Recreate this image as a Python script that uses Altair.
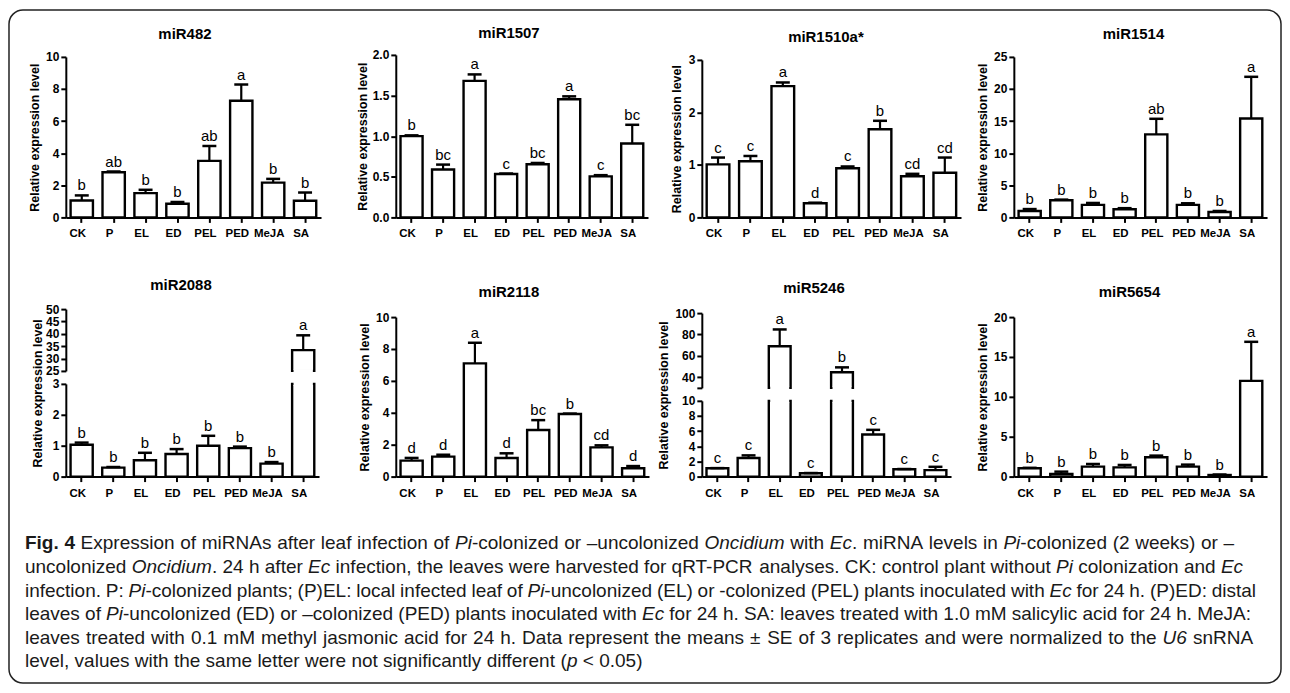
import altair as alt
import pandas as pd

# ---------------- data ----------------
categories = ["CK", "P", "EL", "ED", "PEL", "PED", "MeJA", "SA"]

mir482_mean = [1.05, 2.81, 1.51, 0.85, 3.52, 7.27, 2.17, 1.04]
mir482_err = [0.32, 0.05, 0.21, 0.11, 0.93, 1.01, 0.23, 0.51]
mir482_letters = ["b", "ab", "b", "b", "ab", "a", "b", "b"]

mir1507_mean = [1.00, 0.59, 1.68, 0.535, 0.654, 1.455, 0.505, 0.91]
mir1507_err = [0.01, 0.06, 0.08, 0.005, 0.016, 0.035, 0.015, 0.23]
mir1507_letters = ["b", "bc", "a", "c", "bc", "a", "c", "bc"]

mir1510_mean = [1.01, 1.07, 2.50, 0.27, 0.935, 1.68, 0.785, 0.85]
mir1510_err = [0.13, 0.10, 0.07, 0.01, 0.035, 0.16, 0.045, 0.29]
mir1510_letters = ["c", "c", "a", "d", "c", "b", "cd", "cd"]

mir1514_mean = [1.0, 2.67, 1.95, 1.28, 12.94, 1.95, 0.85, 15.4]
mir1514_err = [0.3, 0.1, 0.3, 0.16, 2.42, 0.25, 0.15, 6.5]
mir1514_letters = ["b", "b", "b", "b", "ab", "b", "b", "a"]

mir2088_mean = [1.03, 0.29, 0.53, 0.73, 1.0, 0.92, 0.42, 33.4]
mir2088_err = [0.07, 0.02, 0.24, 0.16, 0.32, 0.05, 0.05, 6.0]
mir2088_letters = ["b", "b", "b", "b", "b", "b", "b", "a"]

mir2118_mean = [1.0, 1.25, 7.1, 1.17, 2.92, 3.92, 1.83, 0.52]
mir2118_err = [0.17, 0.12, 1.29, 0.29, 0.62, 0.03, 0.13, 0.14]
mir2118_letters = ["d", "d", "a", "d", "bc", "b", "cd", "d"]

mir5246_mean = [1.1, 2.45, 69.0, 0.45, 44.6, 5.55, 0.97, 0.85]
mir5246_err = [0.02, 0.35, 15.7, 0.02, 4.6, 0.62, 0.03, 0.44]
mir5246_letters = ["c", "c", "a", "c", "b", "c", "c", "c"]

mir5654_mean = [1.04, 0.33, 1.25, 1.16, 2.42, 1.25, 0.2, 12.0]
mir5654_err = [0.06, 0.29, 0.33, 0.30, 0.21, 0.25, 0.06, 4.9]
mir5654_letters = ["b", "b", "b", "b", "b", "b", "b", "a"]

caption_lines = [
    [("Fig. 4", "b"), (" Expression of miRNAs after leaf infection of ", "n"), ("Pi", "i"),
     ("-colonized or \u2013uncolonized ", "n"), ("Oncidium", "i"), (" with ", "n"), ("Ec", "i"),
     (". miRNA levels in ", "n"), ("Pi", "i"), ("-colonized (2 weeks) or \u2013", "n")],
    [("uncolonized ", "n"), ("Oncidium", "i"), (". 24 h after ", "n"), ("Ec", "i"),
     (" infection, the leaves were harvested for qRT-PCR analyses. CK: control plant without ", "n"),
     ("Pi", "i"), (" colonization and ", "n"), ("Ec", "i")],
    [("infection. P: ", "n"), ("Pi", "i"), ("-colonized plants; (P)EL: local infected leaf of ", "n"),
     ("Pi", "i"), ("-uncolonized (EL) or -colonized (PEL) plants inoculated with ", "n"), ("Ec", "i"),
     (" for 24 h. (P)ED: distal", "n")],
    [("leaves of ", "n"), ("Pi", "i"), ("-uncolonized (ED) or \u2013colonized (PED) plants inoculated with ", "n"),
     ("Ec", "i"), (" for 24 h. SA: leaves treated with 1.0 mM salicylic acid for 24 h. MeJA:", "n")],
    [("leaves treated with 0.1 mM methyl jasmonic acid for 24 h. Data represent the means \u00b1 SE of 3 replicates and were normalized to the ", "n"),
     ("U6", "i"), (" snRNA", "n")],
    [("level, values with the same letter were not significantly different (", "n"), ("p", "i"),
     (" < 0.05)", "n")],
]

FONT = "Liberation Sans"

# ---------------- layout constants (pixels) ----------------
PAGE_VIEW_X = 66          # left edge of the first column
ROW1_TOP = 53
ROW1_H = 163
ROW2_H = 168
ROW_GAP = 92
COL_GAP = 40
CAPTION_TOP = ROW1_TOP + ROW1_H + ROW_GAP + ROW2_H + ROW_GAP
CAP_LEFT = 25
CAP_LINE_END = [1238, 1247, 1260, 1255, 1257, None]
CAP_Y0 = 543
CAP_DY = 23.7
P_IN, P_OUT = 0.3, 0.15
XLABEL_GAP = 17


def frame(means, errs, letters):
    return pd.DataFrame({
        "cat": categories,
        "mean": means,
        "err": errs,
        "top": [m + e for m, e in zip(means, errs)],
        "letter": letters,
    })


def xenc(xrng):
    xscale = alt.Scale(domain=categories, range=xrng, paddingInner=P_IN, paddingOuter=P_OUT)
    xaxis = alt.Axis(title=None, labels=False, tickSize=5, tickWidth=2, tickColor="black",
                     domainWidth=2, domainColor="black", grid=False)
    return alt.X("cat:N", scale=xscale, axis=xaxis)


def xlabels(df, X, height):
    # category names under the axis ticks
    return alt.Chart(df).mark_text(
        align="center", baseline="middle", font=FONT, fontWeight="bold",
        fontSize=11.5, color="black", dx=-4).encode(
        x=X, y=alt.value(height + XLABEL_GAP), text="cat:N")


def bandwidth(xrng):
    step = (xrng[1] - xrng[0]) / (len(categories) - P_IN + 2 * P_OUT)
    return step * (1 - P_IN)


def yaxis(ticks, fmt, title=True, title_pad=4, title_y=None, label_expr=None):
    ax = dict(values=ticks, format=fmt, grid=False, orient="left", labelFont=FONT,
              labelFontWeight="bold", labelFontSize=12, labelColor="black", labelPadding=2,
              tickSize=5, tickWidth=2, tickColor="black", domainWidth=2, domainColor="black")
    if title:
        ax.update(title="Relative expression level", titleFont=FONT, titleFontWeight="bold",
                  titleFontSize=12.5, titleColor="black", titlePadding=title_pad)
        if title_y is not None:
            ax["titleY"] = title_y
    else:
        ax["title"] = None
    if label_expr:
        ax["labelExpr"] = label_expr
    return alt.Axis(**ax)


def ttl(text, dx, offset):
    return alt.TitleParams(text, font=FONT, fontSize=15, fontWeight="bold", color="black",
                           anchor="middle", frame="group", dx=dx, offset=offset)


def letters_mark(chart):
    return chart.mark_text(font=FONT, fontSize=15, color="black", baseline="alphabetic", dy=-5)


def bar_mark(chart):
    return chart.mark_bar(fill="white", stroke="black", strokeWidth=2.4, opacity=1)


def panel(df, ydom, yrng, ticks, fmt, xrng, width, height, title_pad=4):
    X = xenc(xrng)
    yscale = alt.Scale(domain=ydom, range=yrng, nice=False, zero=False)
    yax = yaxis(ticks, fmt, True, title_pad)

    def Y(field):
        return alt.Y(field, type="quantitative", scale=yscale, axis=yax)

    base = alt.Chart(df)
    bars = bar_mark(base).encode(x=X, y=Y("mean"), y2=alt.datum(0))
    err = base.mark_rule(color="black", strokeWidth=2.2).encode(x=X, y=Y("mean"), y2="top:Q")
    cap = base.mark_tick(color="black", size=14, thickness=2.5, opacity=1).encode(x=X, y=Y("top"))
    lab = letters_mark(base).encode(x=X, y=Y("top"), text="letter:N")
    return alt.layer(bars, err, cap, lab, xlabels(df, X, height)).properties(
        width=width, height=height)


def segment(df, X, bw, dom, rng, keep, lo_cut, hi_cut, axis):
    """One part of a broken axis: bars drawn on their own clamped y scale."""
    yscale = alt.Scale(domain=dom, range=rng, nice=False, zero=False, clamp=True)

    def Y(field):
        return alt.Y(field, type="quantitative", scale=yscale, axis=axis)

    base = alt.Chart(df).transform_filter(keep)
    bars = bar_mark(base).encode(x=X, y=Y("mean"), y2=alt.datum(max(0, dom[0])))
    layers = [bars]
    for cut in (lo_cut, hi_cut):
        if cut is None:
            continue
        cover = alt.Chart(df).transform_filter(
            (alt.datum.mean > dom[1]) if cut == dom[1] else (alt.datum.mean > dom[0])
        ).mark_tick(color="white", size=bw - 2.8, thickness=3.8, opacity=1).encode(
            x=X, y=alt.YDatum(cut, type="quantitative", scale=yscale, axis=axis))
        layers.append(cover)
    vis = alt.Chart(df).transform_filter(keep).transform_filter(alt.datum.mean <= dom[1])
    layers.append(vis.mark_rule(color="black", strokeWidth=2.2).encode(x=X, y=Y("mean"), y2="top:Q"))
    layers.append(vis.mark_tick(color="black", size=14, thickness=2.5, opacity=1).encode(
        x=X, y=Y("top")))
    layers.append(letters_mark(vis).encode(x=X, y=Y("top"), text="letter:N"))
    return alt.layer(*layers)


def broken_panel(df, lo_dom, lo_rng, lo_ticks, hi_dom, hi_rng, hi_ticks, xrng, width, height,
                 title_pad, title_y, hi_label_expr=None):
    X = xenc(xrng)
    bw = bandwidth(xrng)
    lo_axis = yaxis(lo_ticks, "d", True, title_pad, title_y)
    hi_axis = yaxis(hi_ticks, "d", False, label_expr=hi_label_expr)
    lower = segment(df, X, bw, lo_dom, lo_rng, alt.datum.mean >= 0, None, lo_dom[1], lo_axis)
    upper = segment(df, X, bw, hi_dom, hi_rng, alt.datum.mean > hi_dom[0], hi_dom[0], None, hi_axis)
    return alt.layer(lower, upper, xlabels(df, X, height)).resolve_scale(y="independent").properties(
        width=width, height=height)


# ---------------- row 1 ----------------
p482 = panel(frame(mir482_mean, mir482_err, mir482_letters), [0, 10], [163, 2],
             [0, 2, 4, 6, 8, 10], "d", [0, 256], 291, ROW1_H).properties(title=ttl("miR482", -26, 9))
p1507 = panel(frame(mir1507_mean, mir1507_err, mir1507_letters), [0, 2], [163, 0],
              [0, 0.5, 1, 1.5, 2], ".1f", [0, 253], 267, ROW1_H, title_pad=3).properties(
    title=ttl("miR1507", -20, 8))
p1510 = panel(frame(mir1510_mean, mir1510_err, mir1510_letters), [0, 3], [163, 5],
              [0, 1, 2, 3], "d", [0, 260], 273, ROW1_H, title_pad=5).properties(
    title=ttl("miR1510a*", -12, 9))
p1514 = panel(frame(mir1514_mean, mir1514_err, mir1514_letters), [0, 25], [163, 2],
              [0, 5, 10, 15, 20, 25], "d", [0, 254], 254, ROW1_H).properties(
    title=ttl("miR1514", -7, 9))

# ---------------- row 2 ----------------
p2088 = broken_panel(frame(mir2088_mean, mir2088_err, mir2088_letters),
                     [0, 3], [168, 75], [0, 1, 2, 3],
                     [25, 50], [62, 0], [25, 30, 35, 40, 45, 50],
                     [0, 254], 291, ROW2_H, title_pad=8, title_y=84).properties(
    title=ttl("miR2088", -30, 10))

p2118 = panel(frame(mir2118_mean, mir2118_err, mir2118_letters), [0, 10], [168, 8],
              [0, 2, 4, 6, 8, 10], "d", [0, 254], 267, ROW2_H).properties(
    title=ttl("miR2118", -20, 9))

p5246 = broken_panel(frame(mir5246_mean, mir5246_err, mir5246_letters),
                     [0, 10], [168, 92], [0, 2, 4, 6, 8, 10],
                     [30, 100], [79, 4], [30, 40, 60, 80, 100],
                     [0, 250], 273, ROW2_H, title_pad=11, title_y=86,
                     hi_label_expr="datum.value == 30 ? '' : datum.label").properties(
    title=ttl("miR5246", -24, 11))

p5654 = panel(frame(mir5654_mean, mir5654_err, mir5654_letters), [0, 20], [168, 8],
              [0, 5, 10, 15, 20], "d", [0, 254], 254, ROW2_H).properties(
    title=ttl("miR5654", -11, 9))

# ---------------- caption (word-by-word, Arial/Liberation metrics) ----------------
AR_REG = {' ': 278, '!': 278, '(': 333, ')': 333, ',': 278, '-': 333, '.': 278, ':': 278, ';': 278,
          '<': 584, '\u00b1': 584, '\u2013': 556, '*': 389}
for ch in "0123456789":
    AR_REG[ch] = 556
AR_REG.update(dict(zip("ABCDEFGHIJKLMNOPQRSTUVWXYZ",
                       [667, 667, 722, 722, 667, 611, 778, 722, 278, 500, 667, 556, 833, 722, 778,
                        667, 778, 722, 667, 611, 722, 667, 944, 667, 667, 611])))
AR_REG.update(dict(zip("abcdefghijklmnopqrstuvwxyz",
                       [556, 556, 500, 556, 556, 278, 556, 556, 222, 222, 500, 222, 833, 556, 556,
                        556, 556, 333, 500, 278, 556, 500, 722, 500, 500, 500])))
AR_BOLD = {' ': 278, 'F': 611, 'i': 278, 'g': 611, '.': 278, '4': 556}


def units(s, style):
    tab = AR_BOLD if style == "b" else AR_REG
    return sum(tab.get(c, 556) for c in s)


def tokens(runs):
    out = []
    for text, style in runs:
        parts = text.split(" ")
        for i, p in enumerate(parts):
            if i > 0:
                out.append((" ", "sp"))
            if p:
                out.append((p, style))
    return out


line_toks = [tokens(r) for r in caption_lines]
nat_units = [sum(units(t, s if s != "sp" else "n") for t, s in tk) for tk in line_toks]
ratios = sorted((CAP_LINE_END[i] - CAP_LEFT) * 1000.0 / nat_units[i] for i in range(5))
cap_fs = round(ratios[2], 2)

records = []
for i, tk in enumerate(line_toks):
    nsp = sum(1 for t, s in tk if s == "sp")
    nat = nat_units[i] * cap_fs / 1000.0
    extra = 0.0
    if CAP_LINE_END[i] is not None and nsp:
        extra = (CAP_LINE_END[i] - CAP_LEFT - nat) / nsp
    x = CAP_LEFT - PAGE_VIEW_X
    y = CAP_Y0 + i * CAP_DY - CAPTION_TOP
    for t, s in tk:
        if s == "sp":
            x += units(" ", "n") * cap_fs / 1000.0 + extra
            continue
        records.append({"text": t, "x": x, "y": y, "style": s})
        x += units(t, s) * cap_fs / 1000.0

cap_df = pd.DataFrame(records)
cbase = alt.Chart(cap_df)


def cap_layer(style, weight, fstyle):
    return cbase.transform_filter(alt.datum.style == style).mark_text(
        font=FONT, fontSize=cap_fs, fontWeight=weight, fontStyle=fstyle, align="left",
        baseline="middle", color="#1a1a1a").encode(
        x=alt.X("x:Q", scale=None, axis=None),
        y=alt.Y("y:Q", scale=None, axis=None),
        text="text:N")


border = alt.Chart(pd.DataFrame({"k": [0]})).mark_rect(
    fill="white", fillOpacity=0, stroke="#222222", strokeWidth=1.5, cornerRadius=14).encode(
    x=alt.value(9 - PAGE_VIEW_X), x2=alt.value(1285 - PAGE_VIEW_X),
    y=alt.value(8 - CAPTION_TOP), y2=alt.value(683 - CAPTION_TOP))

caption = alt.layer(border, cap_layer("n", "normal", "normal"), cap_layer("i", "normal", "italic"),
                    cap_layer("b", "bold", "normal")).properties(width=10, height=10)

chart = alt.concat(
    p482, p1507, p1510, p1514, p2088, p2118, p5246, p5654, caption,
    columns=4, spacing=alt.RowColnumber(row=ROW_GAP, column=COL_GAP), bounds="flush"
).properties(padding=0).configure(font=FONT).configure_view(stroke=None)

chart.save("out.html", embed_options={"renderer": "svg", "actions": False})
